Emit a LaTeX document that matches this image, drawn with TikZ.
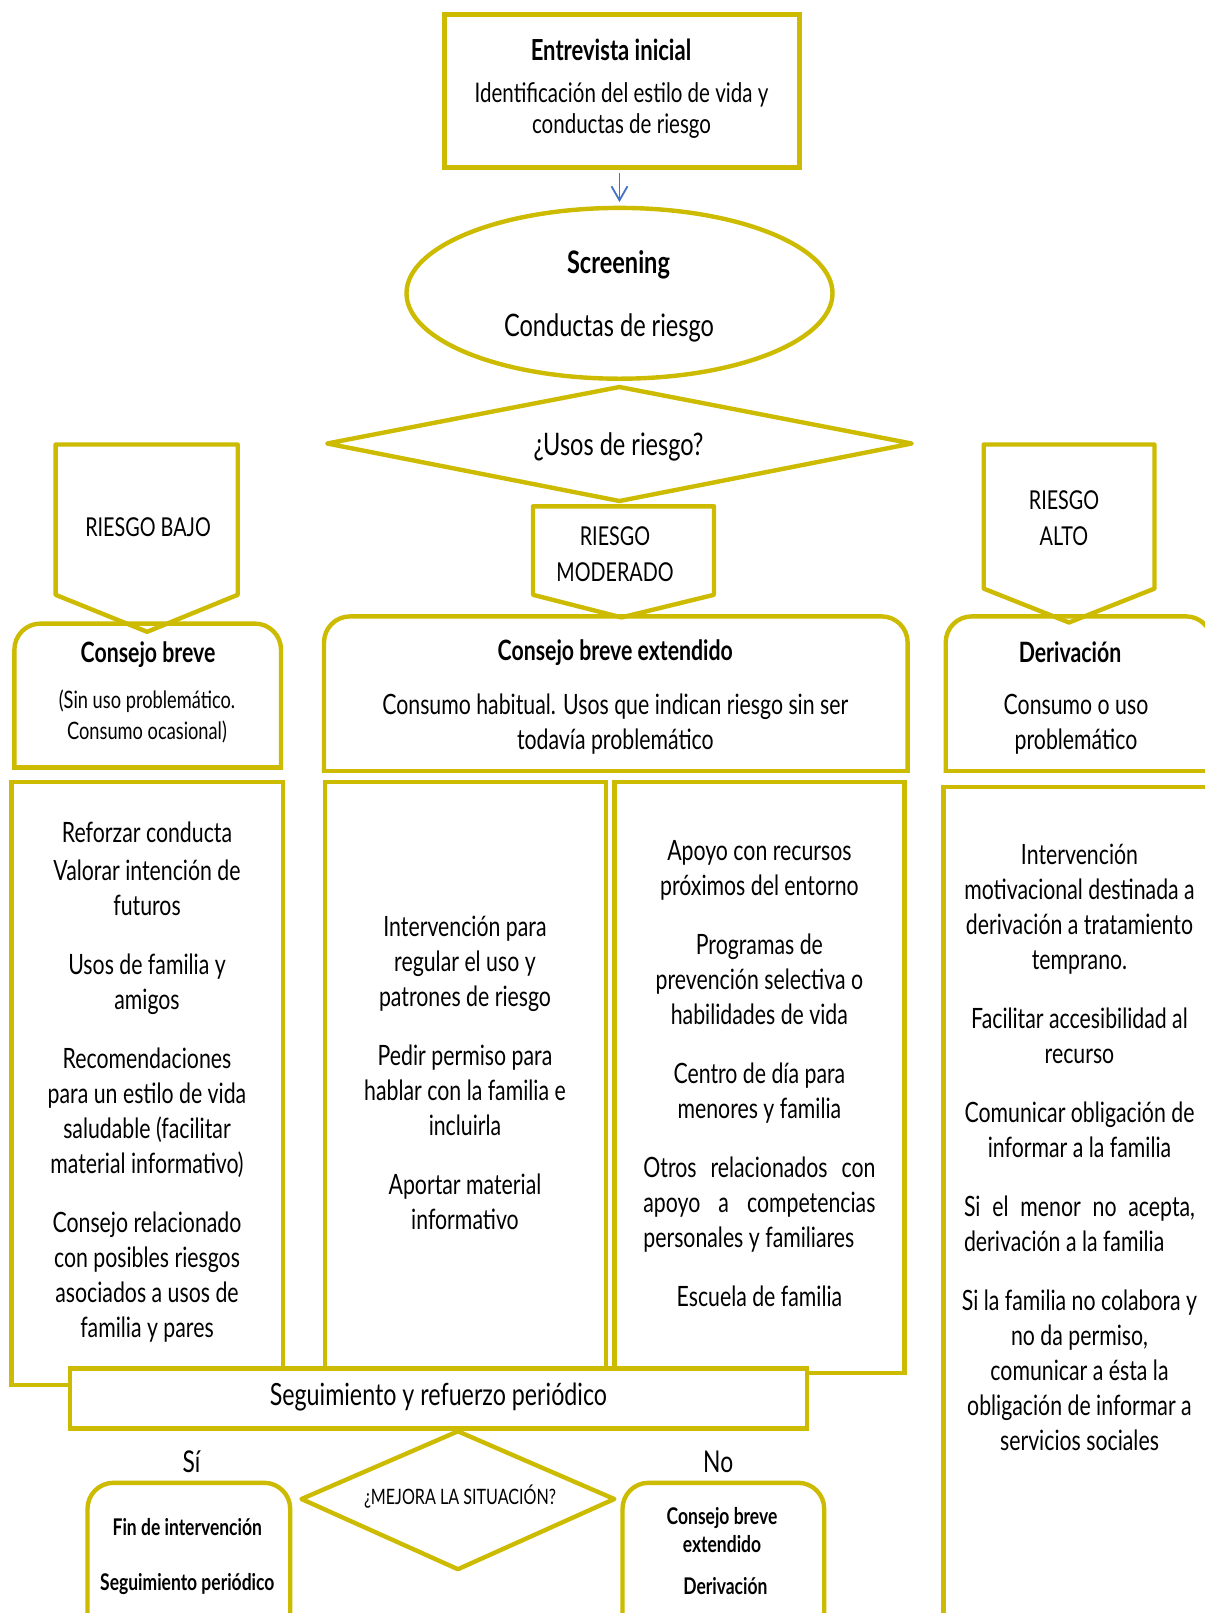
\documentclass[tikz,border=0pt]{standalone}
\usepackage{fontspec}
\setmainfont{Lato}[FakeStretch=0.76]
\usetikzlibrary{arrows.meta,shapes.geometric}
\definecolor{mustard}{RGB}{204,187,0}
\definecolor{linkblue}{RGB}{68,114,196}
\begin{document}
\begin{tikzpicture}[x=0.5pt,y=-0.5pt,
  outline/.style={draw=mustard,line width=2.2pt},
  openbox/.style={outline,line cap=rect,rounded corners=13pt},
  pointed/.style={outline,line join=round},
  txt/.style={align=center,inner sep=0pt,text=black,font=\fontsize{14}{17.5}\selectfont},
  title/.style={txt,font=\bfseries\fontsize{14}{17}\selectfont},
  big/.style={txt,font=\fontsize{15.5}{18}\selectfont},
  label/.style={txt,font=\fontsize{13}{18}\selectfont},
  small/.style={txt,font=\fontsize{12}{15.5}\selectfont},
  smallbold/.style={txt,font=\bfseries\fontsize{11.5}{14}\selectfont},
  link/.style={-{Straight Barb[length=7pt,width=8pt]},draw=linkblue,line width=0.9pt}]
\useasboundingbox (0,0) rectangle (1205,1613);
\clip (0,0) rectangle (1205,1613);

% ---- initial interview and screening
\node[outline,rectangle,minimum width=177.5pt,minimum height=76.6pt,inner sep=0pt] (entrevista) at (622,91.05) {};
\node[title,font=\bfseries\fontsize{14.5}{17}\selectfont] (entrevistaT) at (611,49.4) {Entrevista inicial};
\node[txt,font=\fontsize{13.5}{15.5}\selectfont] (entrevistaB) at (621.5,110.5) {Identificación del estilo de vida y\\conductas de riesgo};

\node[outline,ellipse,minimum width=213pt,minimum height=85.4pt,inner sep=0pt] (screening) at (619.5,293.3) {};
\node[big,font=\bfseries\fontsize{15.5}{18}\selectfont] (screeningT) at (618.5,264.5) {Screening};
\node[big] (screeningB) at (609,328) {Conductas de riesgo};

\draw[link,shorten <=1.8pt,shorten >=1.8pt] (entrevista.south -| screening.north) -- (screening.north);

% ---- decision on risk use
\draw[pointed] (327.2,443.5) -- (619.5,387) -- (911.7,443.5) -- (619.5,501) -- cycle;
\node[big] (usos) at (618.5,446.6) {¿Usos de riesgo?};

% ---- risk level markers
\draw[pointed] (55.6,444.5) -- (237.7,444.5) -- (237.7,594.8) -- (147.1,631.8) -- (55.6,594.8) -- cycle;
\node[label] (bajo) at (148,527) {RIESGO BAJO};
\draw[pointed] (533,506.3) -- (714,506.3) -- (714,594.8) -- (621.5,617.4) -- (533,594.8) -- cycle;
\node[label] (moderado) at (615,554) {RIESGO\\MODERADO};
\draw[pointed] (983.7,444.5) -- (1154.5,444.5) -- (1154.5,588.6) -- (1069,622.5) -- (983.7,588.6) -- cycle;
\node[label] (alto) at (1064,518.5) {RIESGO\\ALTO};

% ---- advice headers (rounded top corners)
\draw[openbox] (14.4,767.6) -- (14.4,623.6) -- (281,623.6) -- (281,767.6);
\draw[outline,line cap=rect] (14.4,767.6) -- (281,767.6);
\node[title] (cb) at (148,654.4) {Consejo breve};
\node[small] (cbB) at (147,716) {(Sin uso problemático.\\Consumo ocasional)};

\draw[openbox] (324,770.7) -- (324,616.4) -- (907.6,616.4) -- (907.6,770.7);
\draw[outline,line cap=rect] (324,770.7) -- (907.6,770.7);
\node[title] (cbe) at (615.3,652.4) {Consejo breve extendido};
\node[txt] (cbeB) at (615.3,724.4) {Consumo habitual. Usos que indican riesgo sin ser\\todavía problemático};

\draw[openbox] (945.7,770.7) -- (945.7,616.4) -- (1212,616.4) -- (1212,770.7);
\draw[outline,line cap=rect] (945.7,770.7) -- (1212,770.7);
\node[title] (der) at (1070,652.4) {Derivación};
\node[txt] (derB) at (1076,724.4) {Consumo o uso\\problemático};

% ---- action columns
\draw[outline] (11.3,782) rectangle (283,1385);
\node[txt] (colA) at (147,1082.5) {Reforzar conducta\\[1.5pt]
Valorar intención de\\futuros\\[12pt]
Usos de familia y\\amigos\\[12pt]
Recomendaciones\\para un estilo de vida\\saludable (facilitar\\material informativo)\\[12pt]
Consejo relacionado\\con posibles riesgos\\asociados a usos de\\familia y pares};

\draw[outline] (325,782) rectangle (606,1369);
\node[txt] (colB) at (465,1072.7) {Intervención para\\regular el uso y\\patrones de riesgo\\[12pt]
Pedir permiso para\\hablar con la familia e\\incluirla\\[12pt]
Aportar material\\informativo};

\draw[outline] (614.3,782) rectangle (904.5,1372.7);
\node[txt] (colC) at (759.4,1073.5) {Apoyo con recursos\\próximos del entorno\\[12pt]
Programas de\\prevención selectiva o\\habilidades de vida\\[12pt]
Centro de día para\\menores y familia\\[12pt]
\makebox[116pt][s]{Otros relacionados con}\\
\makebox[116pt][s]{apoyo a competencias}\\
\makebox[116pt][l]{personales y familiares}\\[12pt]
Escuela de familia};

\draw[outline] (943.6,787.2) rectangle (1212,1625);
\node[txt] (colD) at (1079.5,1147) {Intervención\\motivacional destinada a\\derivación a tratamiento\\temprano.\\[12pt]
Facilitar accesibilidad al\\recurso\\[12pt]
Comunicar obligación de\\informar a la familia\\[12pt]
\makebox[115.5pt][s]{Si el menor no acepta,}\\
\makebox[115.5pt][l]{derivación a la familia}\\[12pt]
Si la familia no colabora y\\no da permiso,\\comunicar a ésta la\\obligación de informar a\\servicios sociales};

% ---- follow-up
\draw[outline,fill=white] (70,1368.6) rectangle (806.7,1428.3);
\node[txt,font=\fontsize{15.3}{17.5}\selectfont] (seguimiento) at (438.4,1397.4) {Seguimiento y refuerzo periódico};

\node[txt,font=\fontsize{15}{18}\selectfont] (si) at (191.4,1462.2) {Sí};
\node[txt,font=\fontsize{15}{18}\selectfont] (no) at (718.2,1462.2) {No};

\draw[pointed] (301.5,1499) -- (457.9,1431.3) -- (614.3,1499) -- (457.9,1569.2) -- cycle;
\node[txt,font=\fontsize{10.6}{13}\selectfont] (mejora) at (460,1497) {¿MEJORA LA SITUACIÓN?};

\draw[openbox] (87.5,1625) -- (87.5,1482.8) -- (290.2,1482.8) -- (290.2,1625);
\node[smallbold] (fin) at (187.3,1527) {Fin de intervención};
\node[smallbold] (finB) at (187.3,1583.6) {Seguimiento periódico};

\draw[openbox] (622.5,1625) -- (622.5,1482.8) -- (824.2,1482.8) -- (824.2,1625);
\node[smallbold] (otra) at (722,1530) {Consejo breve\\extendido};
\node[smallbold] (otraB) at (725.4,1585.7) {Derivación};
\end{tikzpicture}
\end{document}
